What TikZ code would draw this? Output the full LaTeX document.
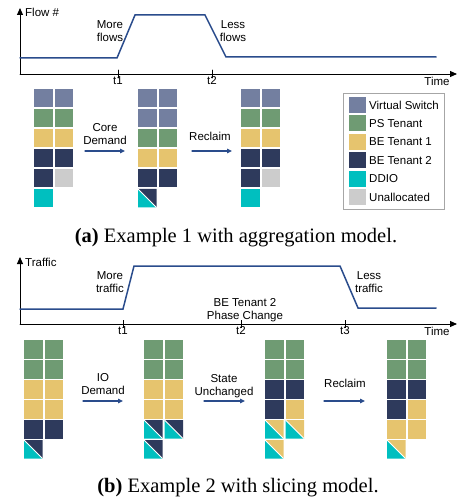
\documentclass[tikz,border=0pt]{standalone}
\usepackage{fontspec}
\setmainfont{Liberation Serif}
\setsansfont{Liberation Sans}
\usepackage{tikz}
\usepackage{tkz-euclide}
\usetikzlibrary{arrows.meta}
\definecolor{vswitch}{HTML}{737FA0}
\definecolor{pstenant}{HTML}{6F9B73}
\definecolor{betena}{HTML}{E6C46E}
\definecolor{betenb}{HTML}{2E3A5C}
\definecolor{ddio}{HTML}{00BFBF}
\definecolor{unalloc}{HTML}{CCCCCC}
\definecolor{trendblue}{HTML}{2A4C8C}
\newcommand{\blk}[3]{\fill[#3] (#1,#2) rectangle ++(18.5,18.5);}
\newcommand{\halfblk}[3]{%
  \fill[ddio] (#1,#2) -- ++(0,18.5) -- ++(18.5,0) -- cycle;
  \fill[#3] (#1,#2) -- ++(18.5,0) -- ++(0,18.5) -- cycle;
  \draw[white,line width=0.9pt] (#1,#2) -- ++(18.5,18.5);}
\tikzset{
  lbl/.style={font=\sffamily\fontsize{11.5}{13}\selectfont, align=center, inner sep=0pt},
  capt/.style={font=\fontsize{20.5}{23}\selectfont, inner sep=0pt},
  axisln/.style={line width=0.9pt, -{Triangle[length=7pt,width=6pt]}},
  trend/.style={trendblue, line width=1.5pt},
  movearr/.style={trendblue, line width=1.2pt, -{Triangle[length=5pt,width=4.5pt]}},
  tickln/.style={line width=0.6pt}
}

\begin{document}
\begin{tikzpicture}[x=1pt,y=-1pt]
\useasboundingbox (0,0) rectangle (461,502);
% (a) time line
\tkzDefPoint(20,74){Oa}
\tkzDefPoint(20,8){Ya}
\tkzDefPoint(457,74){Xa}
\tkzDrawSegments[axisln](Oa,Ya Oa,Xa)
\tkzDefPoint(20,58){Pa}
\tkzDefPoint(117,58){Qa}
\tkzDefPoint(135,15){Ra}
\tkzDefPoint(205,15){Sa}
\tkzDefPoint(226,57){Ta}
\tkzDefPoint(436,57){Ua}
\tkzDrawPolySeg[trend](Pa,Qa,Ra,Sa,Ta,Ua)
\tkzDefPoint(118,70){taA}
\tkzDefPoint(118,78){taB}
\tkzDefPoint(212,70){tbA}
\tkzDefPoint(212,78){tbB}
\tkzDrawSegments[tickln](taA,taB tbA,tbB)
\node[lbl,anchor=west] (flowlbl) at (25,12) {Flow \#};
\node[lbl] (t1a) at (118,81) {t1};
\node[lbl] (t2a) at (212,81) {t2};
\node[lbl] (timea) at (437,81) {Time};
\node[lbl] (moreflows) at (110,31) {More\\flows};
\node[lbl] (lessflows) at (233,31) {Less\\flows};
% (a) cores
\foreach \r/\cl/\cr in {0/vswitch/vswitch,1/pstenant/pstenant,2/betena/betena,3/betenb/betenb,4/betenb/unalloc}
  {\blk{34}{89+20*\r}{\cl}\blk{54.5}{89+20*\r}{\cr}}
\blk{34}{189}{ddio}
\foreach \r/\cl/\cr in {0/vswitch/vswitch,1/vswitch/vswitch,2/pstenant/pstenant,3/betena/betena,4/betenb/betenb}
  {\blk{138}{89+20*\r}{\cl}\blk{158.5}{89+20*\r}{\cr}}
\halfblk{138}{189}{betenb}
\foreach \r/\cl/\cr in {0/vswitch/vswitch,1/pstenant/pstenant,2/betena/betena,3/betenb/betenb,4/betenb/unalloc}
  {\blk{241}{89+20*\r}{\cl}\blk{261.5}{89+20*\r}{\cr}}
\blk{241}{189}{ddio}
\tkzDefPoint(85,151){caS}
\tkzDefPoint(125,151){caE}
\tkzDefPoint(192,151){raS}
\tkzDefPoint(232,151){raE}
\tkzDrawSegments[movearr](caS,caE raS,raE)
\node[lbl] (coredemand) at (105,134) {Core\\Demand};
\node[lbl] (reclaima) at (210,136) {Reclaim};
% legend
\draw[gray!70,line width=0.6pt] (343,93) rectangle (444,209);
\foreach \cl/\txt [count=\i from 0] in {vswitch/Virtual Switch,pstenant/PS Tenant,betena/BE Tenant 1,betenb/BE Tenant 2,ddio/DDIO,unalloc/Unallocated}
  {\fill[\cl] (349,97+18.4*\i) rectangle ++(17,16);
   \node[lbl,anchor=west] (leg\i) at (369,105+18.4*\i) {\txt};}
\node[capt] (capa) at (236,238) {\textbf{(a)} Example 1 with aggregation model.};
% (b) time line
\tkzDefPoint(20,324){Ob}
\tkzDefPoint(20,257){Yb}
\tkzDefPoint(457,324){Xb}
\tkzDrawSegments[axisln](Ob,Yb Ob,Xb)
\tkzDefPoint(20,309){Pb}
\tkzDefPoint(123,309){Qb}
\tkzDefPoint(134,266){Rb}
\tkzDefPoint(340,266){Sb}
\tkzDefPoint(358,308){Tb}
\tkzDefPoint(436,308){Ub}
\tkzDrawPolySeg[trend](Pb,Qb,Rb,Sb,Tb,Ub)
\foreach \tx in {123,241,345}
  {\draw[tickln] (\tx,320) -- (\tx,328);}
\node[lbl,anchor=west] (trafficlbl) at (25,262) {Traffic};
\node[lbl] (t1b) at (123,331) {t1};
\node[lbl] (t2b) at (241,331) {t2};
\node[lbl] (t3b) at (345,331) {t3};
\node[lbl] (timeb) at (437,331) {Time};
\node[lbl] (moretraffic) at (110,282) {More\\traffic};
\node[lbl] (lesstraffic) at (369,282) {Less\\traffic};
\node[lbl] (phasechg) at (245,310) {BE Tenant 2\\Phase Change};
% (b) cores
\foreach \r/\cl/\cr in {0/pstenant/pstenant,1/pstenant/pstenant,2/betena/betena,3/betena/betena,4/betenb/betenb}
  {\blk{24}{340+20*\r}{\cl}\blk{44.5}{340+20*\r}{\cr}}
\halfblk{24}{440}{betenb}
\foreach \r/\cl/\cr in {0/pstenant/pstenant,1/pstenant/pstenant,2/betena/betena,3/betena/betena}
  {\blk{144}{340+20*\r}{\cl}\blk{164.5}{340+20*\r}{\cr}}
\halfblk{144}{420}{betenb}\halfblk{164.5}{420}{betenb}
\halfblk{144}{440}{betenb}
\foreach \r/\cl/\cr in {0/pstenant/pstenant,1/pstenant/pstenant,2/betenb/betenb,3/betenb/betena}
  {\blk{265}{340+20*\r}{\cl}\blk{285.5}{340+20*\r}{\cr}}
\halfblk{265}{420}{betena}\halfblk{285.5}{420}{betena}
\halfblk{265}{440}{betena}
\foreach \r/\cl/\cr in {0/pstenant/pstenant,1/pstenant/pstenant,2/betenb/betenb,3/betenb/betena,4/betena/betena}
  {\blk{387}{340+20*\r}{\cl}\blk{407.5}{340+20*\r}{\cr}}
\halfblk{387}{440}{betena}
\tkzDefPoint(83,401){ioS}
\tkzDefPoint(123,401){ioE}
\tkzDefPoint(204,401){stS}
\tkzDefPoint(245,401){stE}
\tkzDefPoint(324,401){rbS}
\tkzDefPoint(365,401){rbE}
\tkzDrawSegments[movearr](ioS,ioE stS,stE rbS,rbE)
\node[lbl] (iodemand) at (103,384) {IO\\Demand};
\node[lbl] (stateunch) at (224,386) {State\\Unchanged};
\node[lbl] (reclaimb) at (345,383) {Reclaim};
\node[capt] (capb) at (238,488) {\textbf{(b)} Example 2 with slicing model.};
\end{tikzpicture}
\end{document}
